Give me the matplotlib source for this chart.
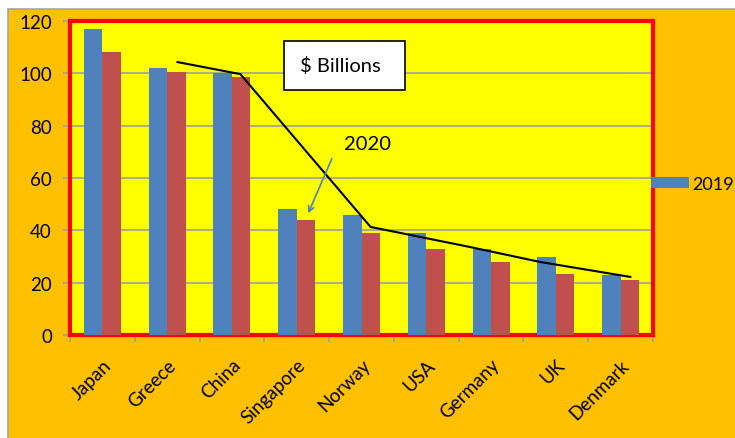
import numpy as np
import matplotlib.pyplot as plt
from matplotlib.patches import Rectangle

plt.rcParams['font.family'] = ['Lato', 'DejaVu Sans']

# data ($ billions)
countries = ['Japan', 'Greece', 'China', 'Singapore', 'Norway', 'USA', 'Germany', 'UK', 'Denmark']
val_2019 = [117, 102, 100, 48, 46, 39, 33, 30, 23]
val_2020 = [108, 100.5, 98.5, 44, 39, 33, 28, 23.3, 21]
# hand-drawn trend line (category index, value)
line_x = [1.16, 2.13, 4.14, 5.68, 6.76, 8.15]
line_y = [104.3, 99.7, 41.3, 33.6, 27.9, 22.2]

blue = '#4F81BD'
red = '#C0504D'
orange = '#FFC000'

fig = plt.figure(figsize=(7.35, 4.39), dpi=100)
fig.patch.set_facecolor('white')
# outer chart area
fig.patches.append(Rectangle((8/735, -0.01), 1.0, 1 - 10/439 + 0.01, transform=fig.transFigure,
                             facecolor=orange, edgecolor='#A6A6A6', linewidth=1.2, zorder=-5))

ax = fig.add_axes([70/735, 1 - 336/439, 583/735, 314/439])
ax.set_facecolor('#FFFF00')

x = np.arange(len(countries))
w = 0.285
b1 = ax.bar(x - w/2, val_2019, w, color=blue, label='2019', zorder=3)
b2 = ax.bar(x + w/2, val_2020, w, color=red, label='2020', zorder=3)

ax.plot(line_x, line_y, color='black', lw=1.5, zorder=4)

ax.set_xlim(-0.5, len(countries) - 0.5)
ax.set_ylim(0, 120)
ax.set_yticks(range(0, 121, 20))
ax.yaxis.grid(True, color='#A0A0A0', lw=1.2, zorder=1)
ax.set_axisbelow(True)

ax.set_xticks(x)
ax.set_xticklabels(countries, rotation=45, ha='right', rotation_mode='anchor', fontsize=13.5)
ax.set_xticks(np.arange(-0.5, len(countries)), minor=True)
ax.tick_params(axis='x', which='major', length=0, pad=15)
ax.tick_params(axis='x', which='minor', length=5, color='#A0A0A0', width=1.2)
ax.tick_params(axis='y', length=5, color='#A0A0A0', width=1.2, labelsize=13.5, pad=8)

for s in ax.spines.values():
    s.set_color('red')
    s.set_linewidth(3)

# "$ Billions" box
ax.add_patch(Rectangle((0.367, 0.78), 0.208, 0.156, transform=ax.transAxes,
                       facecolor='white', edgecolor='black', lw=1.2, zorder=5))
ax.text(0.395, 0.86, '$ Billions', transform=ax.transAxes, fontsize=14.5,
        ha='left', va='center', zorder=6)

# 2020 label with arrow
ax.text(4.1, 73, '2020', fontsize=14.5, ha='center', va='center', zorder=6)
ax.annotate('', xy=(3.16, 45.5), xytext=(3.56, 68.4),
            arrowprops=dict(arrowstyle='->', color=blue, lw=1.2), zorder=6)

fig.legend(handles=[b1], loc='center left', bbox_to_anchor=(651/735, 1 - 185/439),
           frameon=False, fontsize=13, handlelength=2.1, handleheight=0.6,
           handletextpad=0.2, borderpad=0, borderaxespad=0)

fig.savefig('out.png', dpi=100)
